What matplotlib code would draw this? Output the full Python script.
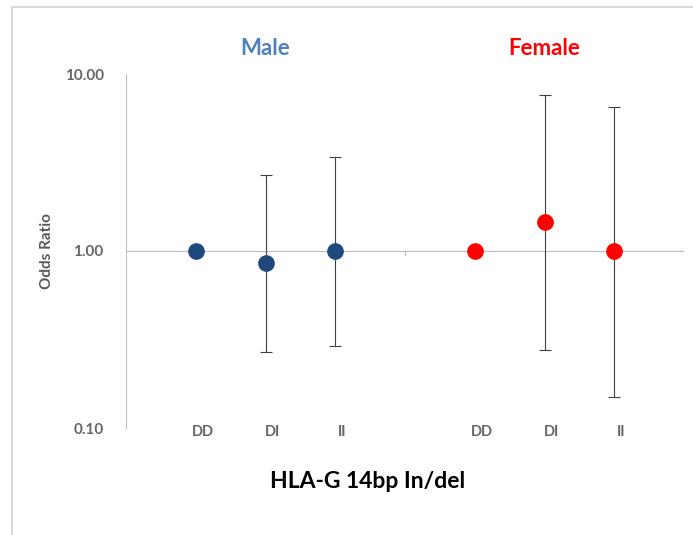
import matplotlib.pyplot as plt
import numpy as np
from matplotlib.lines import Line2D
from matplotlib.transforms import offset_copy

plt.rcParams['font.family'] = ['Lato', 'DejaVu Sans']

# data
groups = ['Male', 'Female']
genotypes = ['DD', 'DI', 'II']
male_or = [1.00, 0.85, 1.00]
male_lo = [1.00, 0.27, 0.29]
male_hi = [1.00, 2.69, 3.40]
female_or = [1.00, 1.46, 1.00]
female_lo = [1.00, 0.276, 0.15]
female_hi = [1.00, 7.6, 6.5]

colors = {'Male': '#1F497D', 'Female': '#FF0000'}
title_colors = {'Male': '#4F81BD', 'Female': '#FF0000'}

fig = plt.figure(figsize=(6.93, 5.35), dpi=100)
ax = fig.add_axes([126/693, 1-428/535, (684-126)/693, (428-74)/535])

# frame lines of the chart area (left and top only)
fig.add_artist(Line2D([12.5/693, 12.5/693], [0, 1-6.5/535], transform=fig.transFigure,
                      color='#D9D9D9', lw=1.5))
fig.add_artist(Line2D([12.5/693, 1], [1-6.5/535, 1-6.5/535], transform=fig.transFigure,
                      color='#D9D9D9', lw=1.5))

lab_trans = offset_copy(ax.transData, fig=fig, y=-3, units='points')

series = [(male_or, male_lo, male_hi), (female_or, female_lo, female_hi)]
for gi, (g, (vals, lo, hi)) in enumerate(zip(groups, series)):
    x = np.arange(len(genotypes)) + 1 + gi * 4
    vals = np.array(vals)
    yerr = np.vstack([vals - np.array(lo), np.array(hi) - vals])
    has_err = yerr.sum(axis=0) > 0
    ax.errorbar(x[has_err], vals[has_err], yerr=yerr[:, has_err], fmt='none',
                ecolor='#404040', elinewidth=0.8, capsize=4, capthick=0.8, zorder=2)
    ax.plot(x, vals, 'o', color=colors[g], markersize=11, zorder=3)
    for xi, lab in zip(x, genotypes):
        ax.text(xi + 0.1, 0.1, lab, ha='center', va='center', fontsize=10.5,
                fontweight='bold', color='#666666', transform=lab_trans)
    ax.text(x[1], 14.0, g, ha='center', va='center', fontsize=16, fontweight='bold',
            color=title_colors[g])

ax.set_yscale('log')
ax.set_ylim(0.1, 10)
ax.set_xlim(0, 8)
ax.set_yticks([0.1, 1, 10])
ax.set_yticklabels(['0.10', '1.00', '10.00'], fontweight='bold')
ax.yaxis.set_minor_locator(plt.NullLocator())
ax.tick_params(axis='y', length=0, pad=16, labelsize=11, labelcolor='#666666')
ax.set_xticks([])

for s in ['top', 'right', 'bottom']:
    ax.spines[s].set_visible(False)
ax.spines['left'].set_color('#BFBFBF')
ax.spines['left'].set_linewidth(0.8)

# category axis crossing at 1
ax.axhline(1, color='#BFBFBF', lw=0.9, zorder=1)
for xt in [4, 8]:
    ax.plot([xt, xt], [1/1.055, 1], color='#BFBFBF', lw=0.9, zorder=1)

ax.set_ylabel('Odds Ratio', fontsize=11, fontweight='bold', color='#595959', labelpad=8)
fig.text(368/693, 1-481/535, 'HLA-G 14bp In/del', ha='center', va='center',
         fontsize=16.5, fontweight='bold', color='black')

fig.savefig('out.png', dpi=100, facecolor='white')
